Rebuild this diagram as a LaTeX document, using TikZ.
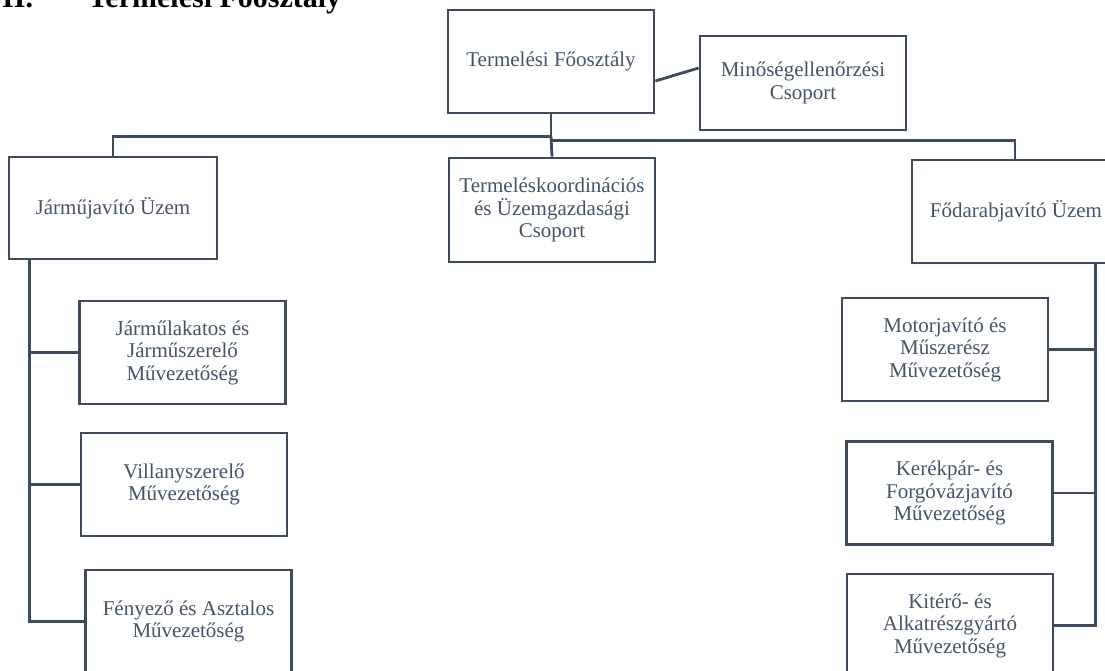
\documentclass[tikz,border=0pt]{standalone}
\usepackage{fontspec}
\setmainfont{Liberation Serif}
\usetikzlibrary{calc}
\definecolor{txtc}{HTML}{44546A}
\definecolor{linec}{HTML}{3E4B5E}
\tikzset{
  orgbox/.style={draw=linec, line width=2.8pt, rectangle, fill=white,
    minimum width=206pt, minimum height=103pt, inner sep=0pt,
    align=center, text=txtc, font=\fontsize{21}{22.5}\selectfont},
  conn/.style={draw=linec, line width=2.8pt}
}
\begin{document}
\begin{tikzpicture}[x=1pt,y=-1pt]
\clip (0,0) rectangle (1105,670);
\fill[white] (0,0) rectangle (1105,670);
% title (cut off at top, as in the reference)
\node[anchor=base west, inner sep=0pt, font=\fontsize{30}{30}\selectfont\bfseries] (t1) at (2,7) {II.};
\node[anchor=base west, inner sep=0pt, font=\fontsize{30}{30}\selectfont\bfseries] (t2) at (88,7) {Termelési Főosztály};
% boxes
\node[orgbox] (top) at (551,61.5) {Termelési Főosztály};
\node[orgbox, minimum height=94pt] (mino) at (803,83) {Minőségellenőrzési\\Csoport};
\node[orgbox, minimum height=104pt] (mid) at (552,210) {Termeléskoordinációs\\és Üzemgazdasági\\Csoport};
\node[orgbox, minimum width=208pt, minimum height=102pt] (jarmu) at (113,208) {Járműjavító Üzem};
\node[orgbox] (L1) at (182.5,352.5) {Járműlakatos és\\Járműszerelő\\Művezetőség};
\node[orgbox] (L2) at (184,484.5) {Villanyszerelő\\Művezetőség};
\node[orgbox] (L3) at (188.5,621.5) {Fényező és Asztalos\\Művezetőség};
\node[orgbox, minimum width=208pt] (fod) at (1016,211.5) {Fődarabjavító Üzem};
\node[orgbox] (R1) at (945,349.5) {Motorjavító és\\Műszerész\\Művezetőség};
\node[orgbox] (R2) at (949.5,493) {Kerékpár- és\\Forgóvázjavító\\Művezetőség};
\node[orgbox] (R3) at (950,625.5) {Kitérő- és\\Alkatrészgyártó\\Művezetőség};
% helper coordinates
\coordinate (hubL) at ($(top.south)+(0,22)$);
\coordinate (hubR) at ($(top.south)+(0,26)$);
\coordinate (topE) at ($(top.east)+(0,19.5)$);
\coordinate (minoW) at ($(mino.west)+(0,-15)$);
\coordinate (lsp) at ($(jarmu.south west)+(22,0)$);
\coordinate (rsp) at ($(fod.south west)+(185,0)$);
% connectors
\draw[conn] (top.south) -- (hubR);
\draw[conn] (hubL) -| (jarmu.north);
\draw[conn] (hubR) -| ($(fod.north)+(-1,0)$);
\draw[conn] (hubL) -- (mid.north);
\draw[conn] (topE) -- (minoW);
\draw[conn] (lsp) |- (L3.west);
\draw[conn] (L1.west) -- (L1.west -| lsp);
\draw[conn] (L2.west) -- (L2.west -| lsp);
\draw[conn] (rsp) |- (R3.east);
\draw[conn] (R1.east) -- (R1.east -| rsp);
\draw[conn] (R2.east) -- (R2.east -| rsp);
\end{tikzpicture}
\end{document}
